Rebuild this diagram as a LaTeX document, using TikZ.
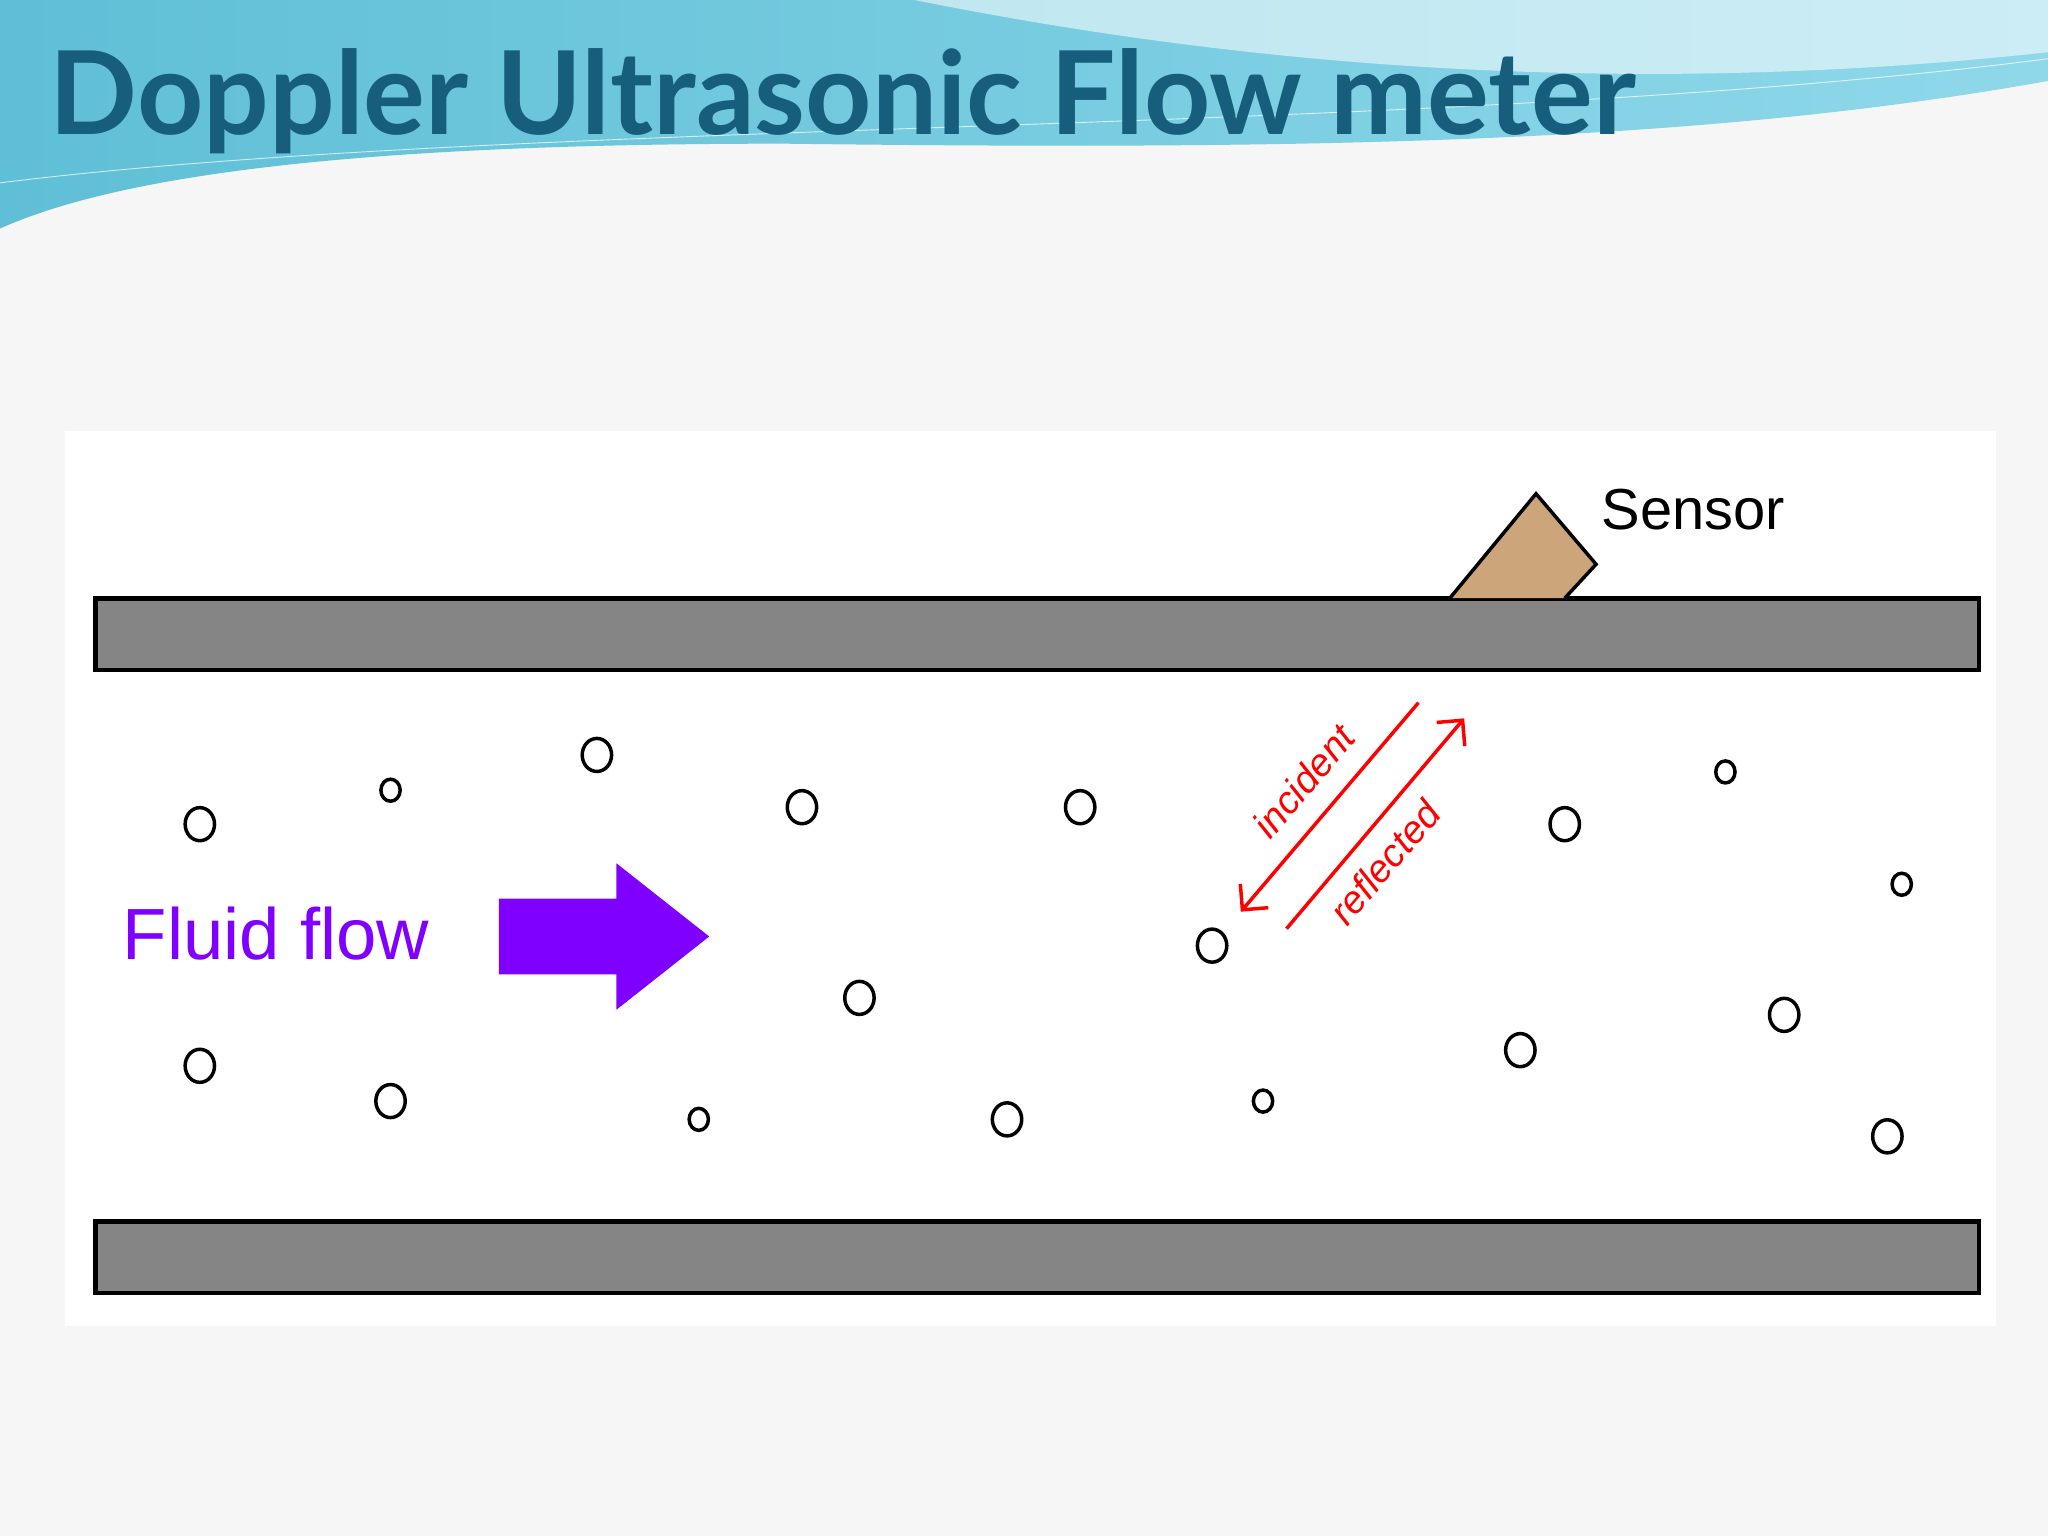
\documentclass[tikz,border=0pt]{standalone}
\usepackage{fontspec}
\setmainfont{Liberation Sans}
\newfontfamily\titlefont{Lato}
\usetikzlibrary{arrows.meta,shapes.geometric}
\definecolor{pipegray}{HTML}{858585}
\definecolor{sens}{HTML}{CDA57B}
\definecolor{flowp}{HTML}{8000FF}
\definecolor{titlec}{HTML}{175E7C}
\definecolor{hdrA}{HTML}{5FBFD6}
\definecolor{hdrB}{HTML}{8FD8EA}
\begin{document}
\begin{tikzpicture}[x=0.05cm,y=-0.05cm,
  pipe/.style={fill=pipegray,draw=black,line width=5pt},
  bub/.style={draw=black,line width=3.8pt,ellipse,minimum width=32pt,minimum height=36pt,inner sep=0pt,fill=white},
  sbub/.style={bub,minimum width=21pt,minimum height=24pt},
  ray/.style={red,line width=3.8pt,-{Straight Barb[length=20pt,width=40pt,line width=3.8pt]}},
  lab/.style={red,font=\itshape\fontsize{42}{42}\selectfont,rotate=49.6,inner sep=0pt}]
\useasboundingbox (0,0) rectangle (1568,1176);
\fill[gray!7] (0,0) rectangle (1568,1176);
% header wave
\shade[left color=hdrA,right color=hdrB] (0,0) -- (1568,0) -- (1568,62) .. controls (1300,110) and (1000,115) .. (600,110) .. controls (300,110) and (100,130) .. (0,175) -- cycle;
\fill[white,opacity=0.55] (700,0) .. controls (900,40) and (1200,80) .. (1568,40) -- (1568,0) -- cycle;
\draw[white,opacity=0.7,line width=1pt] (0,140) .. controls (400,90) and (1100,105) .. (1568,45);
\node[anchor=base west,inner sep=0,text=titlec,font=\titlefont\bfseries\fontsize{126}{126}\selectfont] (title) at (38,103) {Doppler Ultrasonic Flow meter};
% panel
\fill[white] (50,330) rectangle (1528,1015);
\draw[pipe] (73,458) rectangle (1515,513);
\draw[pipe] (73,935) rectangle (1515,990);
\draw[fill=sens,draw=black,line width=3.8pt] (1110,458) -- (1176,378) -- (1222,432) -- (1198,458);
\node[anchor=west,inner sep=0,font=\fontsize{63}{63}\selectfont] (sensor) at (1226,390) {Sensor};
% bubbles
\foreach \x/\y [count=\i] in {153/631,457/578,614/618,827/618,153/816,299/843,658/764,771/857,928/724,1198/631,1164/804,1366/777,1445/870}
  \node[bub] (b\i) at (\x,\y) {};
\foreach \x/\y [count=\i] in {299/605,535/857,967/843,1321/591,1456/677}
  \node[sbub] (s\i) at (\x,\y) {};
% fluid flow
\node[anchor=west,inner sep=0,text=flowp,font=\fontsize{79}{79}\selectfont] (fluid) at (94,715) {Fluid flow};
\fill[flowp] (382,688) -- (472,688) -- (472,661) -- (543,717) -- (472,773) -- (472,746) -- (382,746) -- cycle;
% rays
\coordinate (i1) at (1086,538); \coordinate (i2) at (950,698);
\coordinate (r1) at (985,711); \coordinate (r2) at (1121,550);
\draw[ray] (i1) -- (i2);
\draw[ray] (r1) -- (r2);
\node[lab] (inc) at (998,598) {incident};
\node[lab] (refl) at (1060,660) {reflected};
\end{tikzpicture}
\end{document}
